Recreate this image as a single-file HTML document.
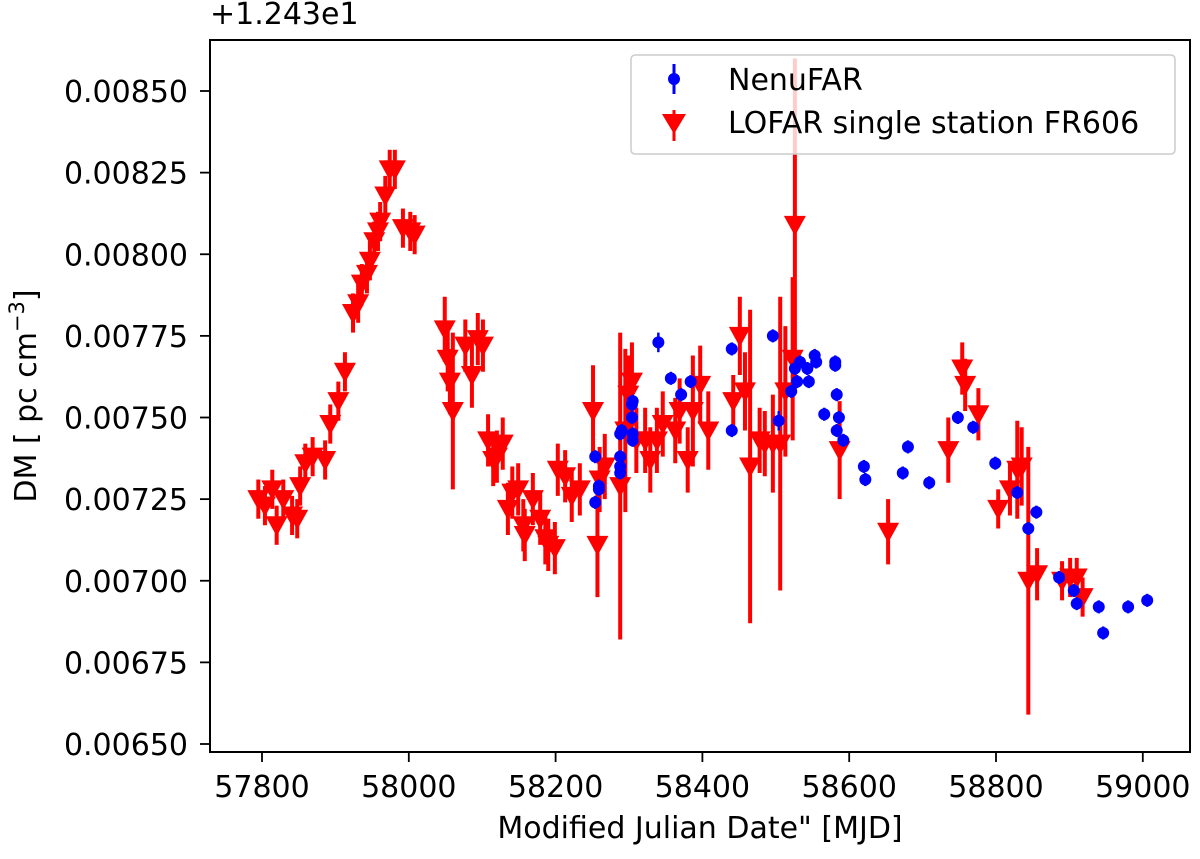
<!DOCTYPE html>
<html><head><meta charset="utf-8"><style>
html,body{margin:0;padding:0;background:#fff;}
svg text{font-family:"DejaVu Sans","Liberation Sans",sans-serif;fill:#000;}
</style></head><body>
<svg id="chart" width="1200" height="854" viewBox="0 0 1200 854" xmlns="http://www.w3.org/2000/svg">
<defs><clipPath id="plotclip"><rect x="210" y="40" width="980" height="712"/></clipPath></defs>
<rect width="1200" height="854" fill="#fff"/>
<g id="marks" clip-path="url(#plotclip)"></g>
<rect x="210" y="40" width="980" height="712" fill="none" stroke="#000" stroke-width="2"/>
<g id="axes"></g>
<text x="210" y="24" font-size="30">+1.243e1</text>
<text x="700" y="838" font-size="30" text-anchor="middle">Modified Julian Date" [MJD]</text>
<text transform="translate(36,396) rotate(-90)" font-size="30" text-anchor="middle">DM [ pc cm<tspan dy="-12" font-size="21">−3</tspan><tspan dy="12">]</tspan></text>
<g>
<rect x="631" y="55" width="544" height="99" rx="4" fill="#fff" fill-opacity="0.8" stroke="#ccc" stroke-width="1.5"/>
<g>
<line x1="674" y1="64" x2="674" y2="94" stroke="#0000ff" stroke-width="3"/>
<circle cx="674" cy="79" r="6" fill="#0000ff"/>
<text x="728" y="90" font-size="30">NenuFAR</text>
</g>
<g>
<line x1="674" y1="110" x2="674" y2="141" stroke="#ff0000" stroke-width="3"/>
<polygon points="662,114 686,114 674,134" fill="#ff0000"/>
<text x="728" y="133" font-size="30">LOFAR single station FR606</text>
</g>
</g>
</svg>
<script>
// Data (DM offset in units of 1e-5 pc cm^-3 above 12.43)
const lofarMjd = [57795,57804,57814,57820,57829,57841,57848,57852,57859,57869,57886,57893,57904,57913,57924,57931,57936,57943,57947,57953,57958,57961,57968,57974,57981,57992,58002,58008,58049,58053,58056,58060,58077,58086,58094,58101,58108,58115,58120,58128,58135,58141,58149,58156,58158,58169,58179,58186,58190,58199,58203,58213,58222,58233,58251,58257,58260,58267,58288,58295,58299,58304,58310,58322,58329,58338,58346,58363,58369,58380,58387,58397,58408,58442,58451,58458,58465,58478,58485,58496,58506,58513,58523,58526,58587,58653,58735,58754,58758,58776,58803,58819,58829,58835,58844,58856,58890,58901,58910,58918];
const lofarDm = [725,723,728,717,725,720,719,729,736,738,737,748,755,764,782,785,791,794,798,804,807,810,818,826,826,808,807,806,777,768,761,752,772,763,774,772,743,737,738,742,722,727,728,717,714,725,719,713,711,710,734,732,726,728,752,711,731,735,729,746,757,761,743,743,737,743,748,746,752,737,752,760,746,755,775,758,735,743,742,742,742,758,768,809,740,715,740,765,760,751,722,728,734,735,700,702,700,701,701,695];
const lofarErr = [6,6,6,6,6,6,6,6,6,6,6,6,6,6,6,6,6,6,6,6,6,6,6,6,6,6,6,6,10,10,10,24,8,10,8,8,8,8,8,8,8,8,8,8,8,8,8,8,8,8,8,8,8,8,14,16,10,10,47,25,12,12,10,10,10,10,10,10,10,10,17,12,12,8,12,12,48,10,10,15,45,20,25,51,15,10,10,8,8,8,6,8,15,12,41,8,6,6,6,6];
const nenuMjd = [58254,58259,58259,58254,58288,58288,58288,58288,58290,58304,58305,58304,58305,58305,58340,58357,58371,58384,58440,58440,58496,58504,58521,58529,58526,58533,58543,58545,58553,58555,58566,58581,58581,58583,58586,58583,58592,58620,58622,58680,58673,58709,58748,58769,58799,58829,58855,58844,58886,58906,58910,58940,58946,58980,59006];
const nenuDm = [738,729,728,724,738,735,733,745,746,754,755,750,745,743,773,762,757,761,771,746,775,749,758,761,765,767,765,761,769,767,751,767,766,757,750,746,743,735,731,741,733,730,750,747,736,727,721,716,701,697,693,692,684,692,694];
const nenuErr = [2,2,2,2,2,2,2,2,2,2,2,2,2,2,3,2,2,2,2,2,2,3,2,2,2,2,2,2,2,2,2,2,2,2,2,2,2,2,2,2,2,2,2,2,2,2,2,2,2,2,2,2,2,2,2];
const xTicks = [57800,58000,58200,58400,58600,58800,59000];
const yTicks = [650,675,700,725,750,775,800,825,850];
const yTickLabels = ["0.00650","0.00675","0.00700","0.00725","0.00750","0.00775","0.00800","0.00825","0.00850"];

const X = m => 262 + (m - 57800) * 0.734;
const Y = v => 91 + (850 - v) * 3.265;
const NS = "http://www.w3.org/2000/svg";
const marks = document.getElementById('marks');
const axes = document.getElementById('axes');
function mk(tag, attrs, parent){const e=document.createElementNS(NS,tag);for(const k in attrs)e.setAttribute(k,attrs[k]);parent.appendChild(e);return e;}

const gL = mk('g',{},marks);


lofarMjd.forEach((m,i)=>{
  const x=X(m), y=Y(lofarDm[i]);
  const bar = mk('line',{x1:x,x2:x,y1:Y(lofarDm[i]+lofarErr[i]),y2:Y(lofarDm[i]-lofarErr[i]),stroke:'#ff0000','stroke-width':4},gL);
  
  
  const t = mk('polygon',{points:`${x-11},${y-9} ${x+11},${y-9} ${x},${y+11}`,fill:'#ff0000'},gL);
  
  
});
const gN = mk('g',{},marks);


nenuMjd.forEach((m,i)=>{
  const x=X(m), y=Y(nenuDm[i]);
  const bar = mk('line',{x1:x,x2:x,y1:Y(nenuDm[i]+nenuErr[i]),y2:Y(nenuDm[i]-nenuErr[i]),stroke:'#0000ff','stroke-width':2.5},gN);
  
  
  const c = mk('circle',{cx:x,cy:y,r:6,fill:'#0000ff'},gN);
  
  
});
xTicks.forEach(t=>{
  const x=X(t);
  const l=mk('line',{x1:x,x2:x,y1:752,y2:762,stroke:'#000','stroke-width':1.8},axes);
  
  
  const tx=mk('text',{x:x,y:797,'font-size':30,'text-anchor':'middle'},axes);
  tx.textContent=String(t);
  
  
});
yTicks.forEach((t,i)=>{
  const y=Y(t);
  const l=mk('line',{x1:200,x2:210,y1:y,y2:y,stroke:'#000','stroke-width':1.8},axes);
  
  
  const tx=mk('text',{x:188,y:y+11,'font-size':30,'text-anchor':'end'},axes);
  tx.textContent=yTickLabels[i];
  
  
});
</script>
</body></html>
